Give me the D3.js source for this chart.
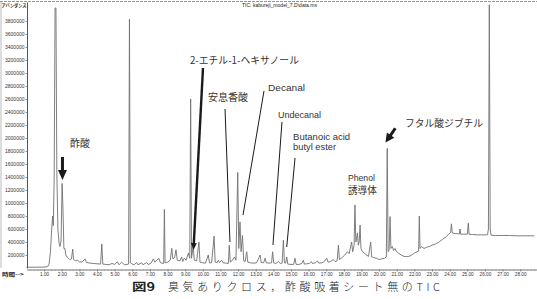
<!DOCTYPE html>
<html><head><meta charset="utf-8">
<script src="https://cdn.jsdelivr.net/npm/d3@7"></script>
<style>
html,body{margin:0;padding:0;background:#fff;}
svg{display:block;}
</style></head>
<body>
<svg id="chart" width="537" height="299"></svg>
<script>
// ---- data ----
const retentionTimes = [
 0.00,0.50,1.00,1.20,1.28,1.36,1.43,1.48,1.52,1.57,1.62,1.67,1.72,1.78,1.85,1.90,1.96,2.02,2.07,2.12,
 2.18,2.23,2.30,2.38,2.45,2.55,2.62,2.67,2.80,2.90,3.00,3.15,3.32,3.40,3.60,3.80,4.00,4.20,4.27,4.33,
 4.50,4.70,4.85,5.00,5.15,5.25,5.40,5.55,5.70,5.79,5.84,5.89,6.00,6.10,6.25,6.32,6.53,6.60,6.82,6.90,
 7.05,7.20,7.28,7.40,7.50,7.60,7.78,7.82,7.86,8.00,8.15,8.24,8.30,8.40,8.48,8.55,8.70,8.80,8.86,8.95,
 9.05,9.18,9.26,9.31,9.36,9.45,9.52,9.65,9.78,9.84,10.00,10.15,10.31,10.38,10.50,10.64,10.70,10.80,10.88,10.95,
 11.07,11.15,11.30,11.45,11.50,11.56,11.65,11.80,11.88,11.98,12.04,12.11,12.17,12.25,12.32,12.40,12.49,12.55,12.70,12.90,
 13.05,13.25,13.31,13.45,13.53,13.60,13.75,13.90,13.96,14.02,14.15,14.28,14.40,14.50,14.57,14.63,14.70,14.76,14.82,15.00,
 15.15,15.23,15.29,15.45,15.62,15.70,15.76,15.90,16.05,16.15,16.22,16.40,16.50,16.58,16.75,16.85,17.03,17.10,17.25,17.40,
 17.50,17.62,17.69,17.75,17.90,18.05,18.20,18.30,18.44,18.50,18.58,18.63,18.68,18.72,18.77,18.82,18.87,18.92,18.97,19.05,
 19.17,19.28,19.40,19.52,19.58,19.70,19.85,20.00,20.15,20.30,20.41,20.46,20.51,20.57,20.62,20.67,20.75,20.82,20.90,20.97,
 21.10,21.25,21.40,21.55,21.70,21.85,22.00,22.15,22.24,22.28,22.32,22.40,22.55,22.70,22.85,23.00,23.20,23.40,23.60,23.80,
 23.95,24.05,24.10,24.15,24.30,24.45,24.55,24.59,24.63,24.80,25.00,25.06,25.10,25.30,25.60,25.90,26.15,26.20,26.25,26.30,
 26.35,26.60,27.00,27.40,27.80,28.20,28.60,28.80
];
const abundance = [
 12000,12000,14000,20000,60000,250000,600000,800000,650000,1400000,4000000,4000000,1500000,600000,380000,330000,420000,1300000,900000,300000,
 300000,200000,170000,150000,130000,140000,290000,130000,110000,120000,95000,90000,140000,85000,75000,70000,65000,60000,370000,60000,
 55000,50000,70000,55000,95000,50000,90000,50000,55000,60000,3830000,80000,60000,50000,85000,50000,80000,50000,85000,55000,
 70000,140000,90000,120000,150000,80000,70000,900000,80000,90000,120000,300000,140000,160000,280000,120000,110000,170000,100000,150000,
 120000,230000,150000,2600000,150000,330000,120000,110000,400000,90000,80000,75000,200000,80000,80000,490000,90000,80000,120000,85000,
 120000,80000,75000,70000,350000,90000,110000,170000,120000,1470000,300000,710000,250000,500000,110000,100000,250000,90000,80000,75000,
 80000,200000,85000,80000,150000,80000,75000,80000,250000,80000,70000,100000,70000,75000,430000,80000,75000,170000,60000,55000,
 55000,150000,55000,55000,70000,120000,60000,65000,70000,100000,70000,80000,110000,75000,80000,90000,150000,90000,100000,130000,
 100000,110000,350000,130000,160000,200000,250000,220000,400000,250000,350000,970000,400000,450000,540000,350000,400000,660000,300000,250000,
 230000,200000,180000,400000,170000,160000,150000,130000,140000,150000,170000,1840000,250000,280000,790000,300000,330000,270000,300000,260000,
 230000,200000,180000,175000,180000,200000,230000,250000,260000,800000,300000,330000,300000,320000,330000,350000,370000,400000,440000,480000,
 520000,540000,680000,540000,530000,530000,520000,600000,520000,520000,520000,690000,520000,515000,510000,510000,510000,600000,4050000,600000,
 505000,500000,500000,500000,495000,495000,495000,495000
];
const xTickValues = [1,2,3,4,5,6,7,8,9,10,11,12,13,14,15,16,17,18,19,20,21,22,23,24,25,26,27,28];
const yTickValues = [200000,400000,600000,800000,1000000,1200000,1400000,1600000,1800000,2000000,
                     2200000,2400000,2600000,2800000,3000000,3200000,3400000,3600000,3800000];
const titleText = "TIC: kabureji_model_7.D\\data.ms";
const yAxisTitle = "アバンダンス";
const xAxisTitle = "時間-->";
const captionHead = "図9";
const captionBody = "臭気ありクロス，酢酸吸着シート無のTIC";

// annotations in data units (time, abundance)
const annotations = [
  {lines:["酢酸"], t:2.47, v:[1862000], size:10, len:null, cjk:true,
   arrow:{from:[2.04,1708000], to:[2.04,1354000], w:3, head:10, headW:9}},
  {lines:["2-エチル-1-ヘキサノール"], t:9.27, v:[3138000], size:10, len:[109], cjk:true,
   arrow:{from:[10.01,3077000], to:[9.47,277000], w:2.4, head:7, headW:6}},
  {lines:["安息香酸"], t:10.29, v:[2569000], size:10, len:[40], cjk:true,
   arrow:{from:[11.26,2446000], to:[11.54,400000], w:1, head:0}},
  {lines:["Decanal"], t:13.7, v:[2723000], size:9, len:[37], cjk:false,
   arrow:{from:[13.47,2723000], to:[12.28,815000], w:1, head:0}},
  {lines:["Undecanal"], t:14.27, v:[2308000], size:9, len:[43], cjk:false,
   arrow:{from:[14.49,2246000], to:[13.98,354000], w:1, head:0}},
  {lines:["Butanoic acid","butyl ester"], t:15.12, v:[1969000,1815000], size:9, len:[57,43], cjk:false,
   arrow:{from:[15.23,1692000], to:[14.76,323000], w:1, head:0}},
  {lines:["Phenol"], t:18.23, v:[1338000], size:8.5, len:[27], cjk:false, arrow:null},
  {lines:["誘導体"], t:18.23, v:[1138000], size:10, len:[29], cjk:true, arrow:null},
  {lines:["フタル酸ジブチル"], t:21.47, v:[2169000], size:10, len:[78], cjk:true,
   arrow:{from:[20.92,2150000], to:[20.36,1930000], w:3, head:9, headW:9}}
];

// ---- drawing ----
const svg = d3.select("#chart");
const x = d3.scaleLinear().domain([0, 29]).range([26.5, 537.8]);
const y = d3.scaleLinear().domain([0, 4092000]).range([268, 2]);
const latin = "'Liberation Sans', Arial, sans-serif";
const cjk = "'Noto Sans CJK JP', 'Noto Sans', sans-serif";

// frame
svg.append("line").attr("x1",0).attr("x2",537).attr("y1",1.5).attr("y2",1.5)
  .attr("stroke","#777").attr("stroke-width",0.8).attr("stroke-dasharray","3,1");
svg.append("line").attr("x1",1).attr("x2",1).attr("y1",2).attr("y2",268)
  .attr("stroke","#aaa").attr("stroke-width",0.8);

// y axis
const yAxis = svg.append("g").attr("transform","translate(27,0)")
  .call(d3.axisLeft(y).tickValues(yTickValues).tickSize(1.5).tickSizeOuter(0).tickPadding(1)
    .tickFormat(d => String(d)));
yAxis.select(".domain").attr("stroke","#444").attr("stroke-width",0.9);
yAxis.selectAll(".tick line").attr("stroke","#555").attr("stroke-width",0.6);
yAxis.selectAll("text").attr("font-family",latin).attr("font-size",5).attr("fill","#333");

// x axis
const xAxisY = 269.5;
const minorTicks = d3.range(0.2, 29, 0.2);
const xMinor = svg.append("g").attr("transform",`translate(0,${xAxisY})`)
  .call(d3.axisBottom(x).tickValues(minorTicks).tickSize(1.5).tickSizeOuter(0).tickFormat(""));
xMinor.select(".domain").attr("stroke","#555").attr("stroke-width",0.8);
xMinor.selectAll(".tick line").attr("stroke","#888").attr("stroke-width",0.5);
const xAxis = svg.append("g").attr("transform",`translate(0,${xAxisY})`)
  .call(d3.axisBottom(x).tickValues(xTickValues).tickSize(2).tickSizeOuter(0).tickPadding(1)
    .tickFormat(d => d.toFixed(2)));
xAxis.select(".domain").remove();
xAxis.selectAll(".tick line").attr("stroke","#555").attr("stroke-width",0.6);
xAxis.selectAll("text").attr("font-family",latin).attr("font-size",4.7).attr("fill","#333");

// titles
svg.append("text").attr("x",1.5).attr("y",7).text(yAxisTitle)
  .attr("font-family",cjk).attr("font-size",4.6).attr("font-weight","bold").attr("fill","#222")
  .attr("textLength",25).attr("lengthAdjust","spacingAndGlyphs");
svg.append("text").attr("x",2).attr("y",276).text(xAxisTitle)
  .attr("font-family",cjk).attr("font-size",5).attr("font-weight","bold").attr("fill","#222")
  .attr("textLength",22).attr("lengthAdjust","spacingAndGlyphs");
svg.append("text").attr("x",242).attr("y",7).text(titleText)
  .attr("font-family",latin).attr("font-size",5).attr("fill","#222")
  .attr("textLength",75).attr("lengthAdjust","spacingAndGlyphs");

// chromatogram trace
const idx = d3.range(retentionTimes.length);
const line = d3.line().x(i => x(retentionTimes[i])).y(i => y(abundance[i]));
svg.append("path").datum(idx).attr("d",line)
  .attr("fill","none").attr("stroke","#707070").attr("stroke-width",0.9)
  .attr("stroke-linejoin","round");

// annotations
const annG = svg.append("g");
annotations.forEach(a => {
  a.lines.forEach((s,k) => {
    const t = annG.append("text").attr("x",x(a.t)).attr("y",y(a.v[k])).text(s)
      .attr("font-family", a.cjk ? cjk : latin).attr("font-size",a.size).attr("fill","#333");
    if (a.len) t.attr("textLength",a.len[k]).attr("lengthAdjust","spacingAndGlyphs");
  });
  if (a.arrow) {
    const p1 = [x(a.arrow.from[0]), y(a.arrow.from[1])];
    const p2 = [x(a.arrow.to[0]), y(a.arrow.to[1])];
    const dx = p2[0]-p1[0], dy = p2[1]-p1[1], L = Math.hypot(dx,dy);
    const ux = dx/L, uy = dy/L;
    const h = a.arrow.head;
    const end = h ? [p2[0]-ux*h*0.8, p2[1]-uy*h*0.8] : p2;
    annG.append("line").attr("x1",p1[0]).attr("y1",p1[1]).attr("x2",end[0]).attr("y2",end[1])
      .attr("stroke","#1a1a1a").attr("stroke-width",a.arrow.w);
    if (h) {
      const bx = p2[0]-ux*h, by = p2[1]-uy*h, hw = a.arrow.headW/2;
      annG.append("path")
        .attr("d",`M${p2[0]},${p2[1]}L${bx-uy*hw},${by+ux*hw}L${bx+uy*hw},${by-ux*hw}Z`)
        .attr("fill","#1a1a1a");
    }
  }
});

// caption
svg.append("text").attr("x",132).attr("y",291).text(captionHead)
  .attr("font-family",cjk).attr("font-size",11).attr("font-weight","bold").attr("fill","#222")
  .attr("textLength",23).attr("lengthAdjust","spacingAndGlyphs");
svg.append("text").attr("x",168).attr("y",291).text(captionBody)
  .attr("font-family",cjk).attr("font-size",11).attr("font-weight",300).attr("fill","#222")
  .attr("textLength",272).attr("lengthAdjust","spacing");
</script>
</body></html>
